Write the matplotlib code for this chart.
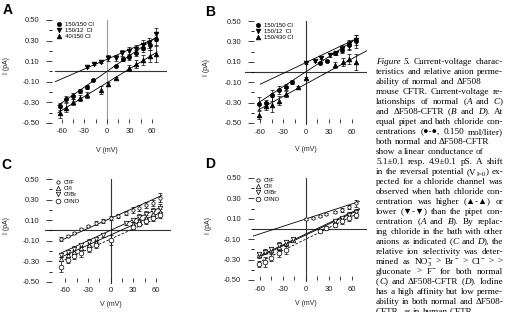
import matplotlib
matplotlib.use('Agg')
import matplotlib.pyplot as plt
from matplotlib.lines import Line2D

plt.rcParams['font.family'] = ['Liberation Sans', 'DejaVu Sans']
plt.rcParams['axes.unicode_minus'] = False

# ---- panel A (normal CFTR, chloride gradients)
a_labels = ['150/150 Cl', '150/12  Cl', '40/150 Cl']
a_v1 = [-63, -54, -45, -36, -27, -18, 12, 21, 30, 39, 48, 57, 65]
a_i1 = [-0.34, -0.27, -0.24, -0.19, -0.15, -0.085, 0.05, 0.12, 0.14, 0.18, 0.23, 0.26, 0.32]
a_e1 = [0.03, 0.03, 0.03, 0.02, 0.02, 0.01, 0.01, 0.02, 0.03, 0.03, 0.04, 0.05, 0.06]
a_v2 = [-26, -17, -8, 1, 12, 20, 30, 39, 48, 56, 65]
a_i2 = [0.04, 0.07, 0.09, 0.13, 0.13, 0.18, 0.20, 0.22, 0.26, 0.28, 0.36]
a_e2 = [0.01, 0.01, 0.01, 0.03, 0.03, 0.03, 0.04, 0.04, 0.05, 0.05, 0.06]
a_v3 = [-63, -54, -45, -36, -27, -8, 1, 12, 30, 39, 48, 57, 65]
a_i3 = [-0.40, -0.35, -0.30, -0.26, -0.23, -0.18, -0.12, -0.06, 0.03, 0.07, 0.11, 0.15, 0.17]
a_e3 = [0.05, 0.04, 0.03, 0.03, 0.03, 0.04, 0.02, 0.01, 0.03, 0.04, 0.05, 0.06, 0.08]
a_fits = [(-65, -0.33, 67, 0.34), (-69, -0.10, 67, 0.33), (-65, -0.40, 67, 0.19)]

# ---- panel B (dF508-CFTR, chloride gradients)
b_labels = ['150/150 Cl', '150/12  Cl', '150/430 Cl']
b_v1 = [-61, -53, -44, -35, -26, -19, 18, 27, 38, 47, 56, 65]
b_i1 = [-0.31, -0.30, -0.23, -0.18, -0.15, -0.10, 0.09, 0.11, 0.19, 0.22, 0.26, 0.30]
b_e1 = [0.06, 0.03, 0.05, 0.04, 0.03, 0.02, 0.01, 0.01, 0.02, 0.03, 0.04, 0.06]
b_v2 = [0, 12, 20, 31, 39, 47, 56, 65]
b_i2 = [0.09, 0.11, 0.135, 0.17, 0.19, 0.23, 0.27, 0.31]
b_e2 = [0.01, 0.01, 0.01, 0.02, 0.02, 0.03, 0.04, 0.05]
b_v3 = [-61, -53, -44, -35, -26, -10, 0, 38, 48, 56, 65]
b_i3 = [-0.42, -0.33, -0.32, -0.28, -0.22, -0.15, -0.06, 0.07, 0.10, 0.13, 0.10]
b_e3 = [0.04, 0.04, 0.07, 0.04, 0.03, 0.01, 0.01, 0.03, 0.04, 0.05, 0.08]
b_fits = [(-62, -0.30, 67, 0.33), (-60, -0.12, 67, 0.33), (-62, -0.37, 80, 0.21)]

# ---- panel C (normal CFTR, anion substitution)
c_labels = ['Cl/F', 'Cl/I', 'Cl/Br', 'Cl/NO']
c_v1 = [-66, -57, -48, -39, -30, -20, -10, 0, 10, 20, 29, 38, 47, 56, 65]
c_i1 = [-0.08, -0.05, -0.02, 0.01, 0.04, 0.07, 0.09, 0.12, 0.14, 0.17, 0.20, 0.22, 0.25, 0.27, 0.32]
c_e1 = [0.02, 0.01, 0.01, 0.01, 0.01, 0.02, 0.02, 0.02, 0.02, 0.02, 0.03, 0.03, 0.03, 0.03, 0.04]
c_v2 = [-66, -57, -48, -39, -29, -20, 29, 38, 47, 56, 65]
c_i2 = [-0.28, -0.24, -0.21, -0.17, -0.14, -0.11, 0.06, 0.09, 0.12, 0.16, 0.18]
c_e2 = [0.02, 0.02, 0.02, 0.02, 0.02, 0.02, 0.02, 0.02, 0.03, 0.03, 0.03]
c_v3 = [-66, -57, -48, -39, -29, -20, -10, 20, 29, 38, 47, 56, 65]
c_i3 = [-0.24, -0.21, -0.18, -0.14, -0.11, -0.08, -0.04, 0.07, 0.10, 0.13, 0.16, 0.19, 0.22]
c_e3 = [0.02, 0.02, 0.03, 0.02, 0.03, 0.02, 0.02, 0.02, 0.02, 0.03, 0.03, 0.03, 0.04]
c_v4 = [-66, -57, -48, -39, -29, -20, 0, 29, 38, 47, 56, 65]
c_i4 = [-0.35, -0.29, -0.25, -0.22, -0.18, -0.14, -0.09, 0.03, 0.06, 0.09, 0.12, 0.15]
c_e4 = [0.05, 0.03, 0.03, 0.04, 0.03, 0.03, 0.05, 0.02, 0.02, 0.03, 0.03, 0.03]
c_fits = [(-67, -0.10, 68, 0.34), (-66, -0.26, 68, 0.18),
          (-66, -0.22, 68, 0.23), (-66, -0.30, 68, 0.14)]

# ---- panel D (dF508-CFTR, anion substitution)
d_labels = ['Cl/F', 'Cl/I', 'Cl/Br', 'Cl/NO']
d_v1 = [0, 9, 18, 27, 38, 47, 56, 65]
d_i1 = [0.095, 0.11, 0.13, 0.15, 0.17, 0.19, 0.22, 0.25]
d_e1 = [0.01, 0.01, 0.01, 0.01, 0.01, 0.02, 0.02, 0.03]
d_v2 = [-61, -53, -45, -35, -26, -17, 38, 47, 56, 65]
d_i2 = [-0.26, -0.22, -0.21, -0.18, -0.14, -0.11, 0.07, 0.10, 0.13, 0.16]
d_e2 = [0.02, 0.02, 0.03, 0.03, 0.03, 0.02, 0.02, 0.02, 0.03, 0.03]
d_v3 = [-61, -53, -45, -35, -26, -17, 38, 47, 56, 65]
d_i3 = [-0.25, -0.23, -0.20, -0.16, -0.13, -0.10, 0.08, 0.11, 0.14, 0.17]
d_e3 = [0.01, 0.02, 0.02, 0.03, 0.02, 0.02, 0.02, 0.02, 0.03, 0.03]
d_v4 = [-61, -53, -45, -35, -26, 18, 27, 38, 47, 56, 65]
d_i4 = [-0.34, -0.32, -0.28, -0.24, -0.21, -0.02, 0.01, 0.04, 0.08, 0.11, 0.14]
d_e4 = [0.03, 0.05, 0.03, 0.03, 0.04, 0.02, 0.02, 0.02, 0.03, 0.03, 0.03]
d_fits = [(-69, -0.07, 70, 0.27), (-62, -0.28, 70, 0.19),
          (-62, -0.27, 70, 0.20), (-62, -0.33, 70, 0.16)]

# caption, as runs of (text, style): n normal, i italic, sub / sup small
MINUS = '\u2212'
caption = [
    [('Figure 5.', 'i'), ('  Current-voltage charac-', 'n')],
    [('teristics and relative anion perme-', 'n')],
    [('ability of normal and \u0394F508', 'n')],
    [('mouse CFTR. Current-voltage re-', 'n')],
    [('lationships of normal (', 'n'), ('A', 'i'), (' and', 'n'), (' C', 'i'), (')', 'n')],
    [('and \u0394F508-CFTR (', 'n'), ('B', 'i'), (' and', 'n'), (' D', 'i'), ('). At', 'n')],
    [('equal pipet and bath chloride con-', 'n')],
    [('centrations (\u25cf-\u25cf, 0.150 mol/liter)', 'n')],
    [('both normal and \u0394F508-CFTR', 'n')],
    [('show a linear conductance of', 'n')],
    [('5.1\u00b10.1 resp. 4.9\u00b10.1 pS. A shift', 'n')],
    [('in the reversal potential (V', 'n'), ('I=0', 'sub'), (') ex-', 'n')],
    [('pected for a chloride channel was', 'n')],
    [('observed when bath chloride con-', 'n')],
    [('centration was higher (\u25b2-\u25b2) or', 'n')],
    [('lower (\u25bc-\u25bc) than the pipet con-', 'n')],
    [('centration (', 'n'), ('A', 'i'), (' and', 'n'), (' B', 'i'), ('). By replac-', 'n')],
    [('ing chloride in the bath with other', 'n')],
    [('anions as indicated (', 'n'), ('C', 'i'), (' and', 'n'), (' D', 'i'), ('), the', 'n')],
    [('relative ion selectivity was deter-', 'n')],
    [('mined as NO', 'n'), ('3', 'sub'), (MINUS, 'sup'), (' > Br', 'n'), (MINUS, 'sup'),
     (' > Cl', 'n'), (MINUS, 'sup'), (' > >', 'n')],
    [('gluconate > F', 'n'), (MINUS, 'sup'), (' for both normal', 'n')],
    [('(', 'n'), ('C', 'i'), (') and \u0394F508-CFTR (', 'n'), ('D', 'i'), ('). Iodine', 'n')],
    [('has a high affinity but low perme-', 'n')],
    [('ability in both normal and \u0394F508-', 'n')],
    [('CFTR, as in human CFTR.', 'n')],
]
ragged_lines = [2, 8, 9, 25]   # lines that are not set flush right

W, H = 507, 312
fig = plt.figure(figsize=(W / 100, H / 100), dpi=100)
renderer = fig.canvas.get_renderer()


def px(x, y):
    return x / W, 1 - y / H


filled = dict(mfc='black', mec='black')
hollow = dict(mfc='white', mec='black')
grad_styles = [dict(marker='o', ms=3.0, **filled),
               dict(marker='v', ms=3.4, **filled),
               dict(marker='^', ms=3.4, **filled)]
anion_styles = [dict(marker='o', ms=2.4, **hollow),
                dict(marker='^', ms=3.2, **hollow),
                dict(marker='v', ms=3.2, **hollow),
                dict(marker='o', ms=3.4, **hollow)]


def panel(box, xlim, yspine, series, fits, dashed, styles, labels,
          letter, letter_xy, ylab_xy, xlab_y, leg_xy, vcol):
    left, top, right, bottom = box
    x0, y0 = px(left, bottom)
    ax = fig.add_axes([x0, y0, (right - left) / W, (bottom - top) / H])
    ax.set_xlim(xlim)
    ax.set_ylim(-0.52, 0.50)
    ax.patch.set_visible(False)
    for s in ['top', 'right', 'left', 'bottom']:
        ax.spines[s].set_visible(False)
    ax.spines['left'].set_position(('data', yspine))
    ax.spines['bottom'].set_position(('data', -0.5))
    ax.axhline(0, color='#333333', lw=0.8, zorder=1)
    ax.axvline(0, color=vcol, lw=0.8, zorder=1)

    ax.set_xticks([-60, -30, 0, 30, 60])
    ax.set_xticklabels(['-60', '-30', '0', '30', '60'])
    ax.set_xticks([-45, -15, 15, 45], minor=True)
    ax.set_yticks([-0.5, -0.3, -0.1, 0.1, 0.3, 0.5])
    ax.set_yticklabels(['-0.50', '-0.30', '-0.10', '0.10', '0.30', '0.50'])
    ax.set_yticks([-0.4, -0.2, 0.0, 0.2, 0.4], minor=True)
    ax.tick_params(axis='y', which='major', direction='out', length=4, width=0.6,
                   pad=5, labelsize=5.5, colors='#222222')
    ax.tick_params(axis='y', which='minor', direction='out', length=2.5, width=0.6)
    ax.tick_params(axis='x', which='both', direction='in', length=3, width=0.6,
                   pad=4, labelsize=5.5, colors='#222222')

    for (v, i, e), st in zip(series, styles):
        ax.errorbar(v, i, yerr=e, fmt='none', ecolor='black', elinewidth=0.5,
                    capsize=1.4, capthick=0.5, zorder=2)
        ax.plot(v, i, ls='none', mew=0.5, zorder=4, **st)
    for (va, ia, vb, ib), d in zip(fits, dashed):
        ax.plot([va, vb], [ia, ib], color='black', lw=0.6,
                ls=(0, (3, 2)) if d else '-', zorder=3)

    handles = [Line2D([], [], ls='none', mew=0.5, **st) for st in styles]
    lx, ly = px(*leg_xy)
    ax.legend(handles, labels, loc='upper left', bbox_to_anchor=(lx, ly),
              bbox_transform=fig.transFigure, frameon=False, fontsize=4.3,
              handlelength=0.8, handletextpad=0.5, labelspacing=0.2,
              borderpad=0, borderaxespad=0, numpoints=1)

    fig.text(*px(*letter_xy), letter, fontsize=10, fontweight='bold',
             ha='left', va='center')
    fig.text(*px(*ylab_xy), 'I (pA)', fontsize=5, rotation=90,
             ha='center', va='center', color='#222222')
    xl = ax.get_xaxis_transform()
    ax.text(0, xlab_y, 'V (mV)', transform=xl, fontsize=5, ha='center',
            va='center', color='#222222', clip_on=False)
    return ax


panel((55, 20, 167, 125), (-69, 80), -73,
      [(a_v1, a_i1, a_e1), (a_v2, a_i2, a_e2), (a_v3, a_i3, a_e3)],
      a_fits, [False, False, False], grad_styles, a_labels,
      'A', (3, 10), (7, 65), -0.24, (57, 21.5), '#9a9a9a')
panel((245, 21, 367, 125), (-80, 80), -68,
      [(b_v1, b_i1, b_e1), (b_v2, b_i2, b_e2), (b_v3, b_i3, b_e3)],
      b_fits, [False, False, False], grad_styles, b_labels,
      'B', (205, 12), (207, 67), -0.24, (256, 22.5), '#333333')
panel((45, 179, 171, 284), (-87, 80), -78,
      [(c_v1, c_i1, c_e1), (c_v2, c_i2, c_e2), (c_v3, c_i3, c_e3), (c_v4, c_i4, c_e4)],
      c_fits, [False, False, False, True], anion_styles, c_labels,
      'C', (1, 165), (7, 226), -0.20, (56, 179.5), '#333333')
panel((253, 178, 367, 282), (-69, 80), -68,
      [(d_v1, d_i1, d_e1), (d_v2, d_i2, d_e2), (d_v3, d_i3, d_e3), (d_v4, d_i4, d_e4)],
      d_fits, [False, False, False, True], anion_styles, d_labels,
      'D', (205, 164), (209, 226), -0.21, (256, 177.5), '#333333')


# ---- caption, justified word by word like the printed column
serif = ['Liberation Serif', 'DejaVu Sans']
cap_left, cap_right = 376.0, 503.0
CAP_SIZE, SMALL_SIZE = 6.6, 4.7


def text_width(s, **kw):
    t = fig.text(0, 0, s, fontsize=CAP_SIZE, family=serif, **kw)
    w = t.get_window_extent(renderer).width
    t.remove()
    return w


# the gap that a real space leaves between two measured words
space_gap = text_width('n n') - 2 * text_width('n')


def split_words(runs):
    words = [[]]
    for txt, kind in runs:
        for j, piece in enumerate(txt.split(' ')):
            if j > 0:
                words.append([])
            if piece:
                words[-1].append((piece, kind))
    return [w for w in words if w]


for k, runs in enumerate(caption):
    base = 64 + 10 * k
    placed, widths = [], []
    for word in split_words(runs):
        cur, prev_start, prev_kind, objs = 0.0, 0.0, None, []
        for txt, kind in word:
            small = kind in ('sub', 'sup')
            shift = {'sub': -1.9, 'sup': 2.8}.get(kind, 0.0)
            start = prev_start if (kind == 'sup' and prev_kind == 'sub') else cur
            t = fig.text(0, 0, txt, fontsize=SMALL_SIZE if small else CAP_SIZE,
                         style='italic' if kind == 'i' else 'normal',
                         ha='left', va='baseline', family=serif)
            wd = t.get_window_extent(renderer).width
            objs.append((t, start, shift))
            cur = max(cur, start + wd + (0.4 if small else 0.0))
            prev_start, prev_kind = start, kind
        placed.append(objs)
        widths.append(cur)
    gap = space_gap
    if k not in ragged_lines and len(widths) > 1:
        gap = (cap_right - cap_left - sum(widths)) / (len(widths) - 1)
        gap = max(gap, 0.6 * space_gap)
    x = cap_left
    for objs, wd in zip(placed, widths):
        for t, start, shift in objs:
            t.set_position(px(x + start, base - shift))
        x += wd + gap

fig.savefig('out.png', dpi=100)
